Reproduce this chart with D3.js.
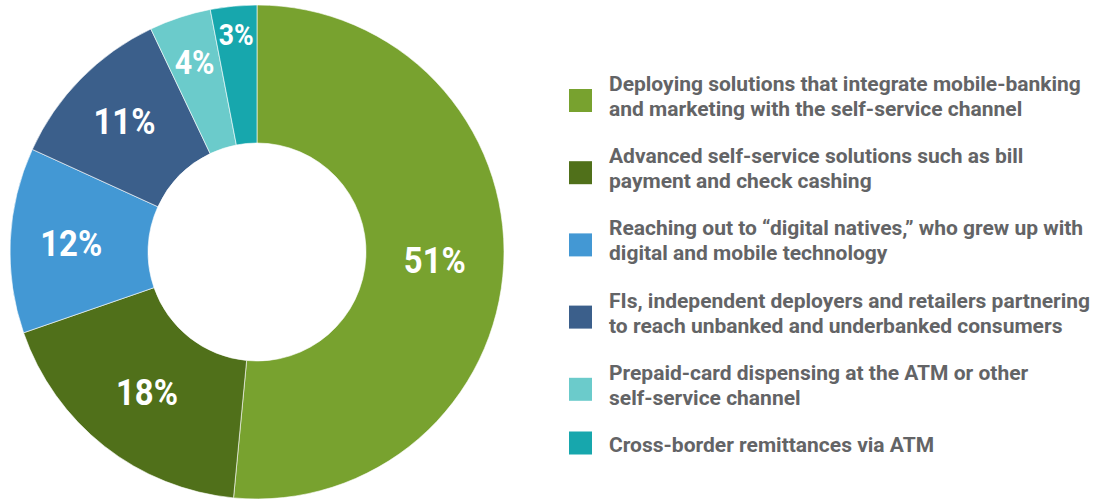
<!DOCTYPE html>
<html>
<head>
<meta charset="utf-8">
<script src="https://cdn.jsdelivr.net/npm/d3@7"></script>
<style>
  html, body { margin: 0; padding: 0; background: #ffffff; }
  svg { display: block; }
  .pct { font-family: "Roboto", "Liberation Sans", sans-serif; font-weight: 700; fill: #ffffff; }
  .leg { font-family: "Roboto", "Liberation Sans", sans-serif; font-weight: 700; fill: #636466; }
</style>
</head>
<body>
<svg id="chart" width="1109" height="502"></svg>
<script>
// Survey shares (percent) for each self-service priority
const categories = [
  ["Deploying solutions that integrate mobile-banking", "and marketing with the self-service channel"],
  ["Advanced self-service solutions such as bill", "payment and check cashing"],
  ["Reaching out to \u201cdigital natives,\u201d who grew up with", "digital and mobile technology"],
  ["FIs, independent deployers and retailers partnering", "to reach unbanked and underbanked consumers"],
  ["Prepaid-card dispensing at the ATM or other", "self-service channel"],
  ["Cross-border remittances via ATM"]
];
const values = [51, 18, 12, 11, 4, 3];
const colors = ["#78a22f", "#50701a", "#4398d4", "#3b5f8b", "#6bcbcb", "#17a7ad"];

const svg = d3.select("#chart");
const cx = 257, cy = 252;
const outerR = 247, innerR = 109;

const pie = d3.pie().sort(null).value(d => d)(values);
const arc = d3.arc().innerRadius(innerR).outerRadius(outerR);

const g = svg.append("g").attr("transform", `translate(${cx},${cy})`);

g.selectAll("path.slice")
  .data(pie)
  .join("path")
  .attr("class", "slice")
  .attr("d", arc)
  .attr("fill", (d, i) => colors[i])
  .attr("stroke", "#ffffff")
  .attr("stroke-width", 0.6);

// Percent labels: centroid for wide slices, pushed outward for narrow ones
function labelPos(d) {
  const mid = (d.startAngle + d.endAngle) / 2;
  let r = (innerR + outerR) / 2;
  if (d.value <= 4) r = outerR - 47 + (4 - d.value) * 19;
  else if (d.value <= 12) r = (innerR + outerR) / 2 + 8;
  return [Math.sin(mid) * r, -Math.cos(mid) * r];
}
const labelSize = d => d.value >= 5 ? 36.5 : 17 + 4.2 * d.value;

g.selectAll("text.pct")
  .data(pie)
  .join("text")
  .attr("class", "pct")
  .attr("transform", d => {
    const [x, y] = labelPos(d);
    return `translate(${x},${y}) scale(0.9,1)`;
  })
  .attr("dy", "0.355em")
  .attr("text-anchor", "middle")
  .attr("font-size", labelSize)
  .text(d => d.value + "%");

// Legend: swatch plus wrapped description lines
const legX = 569, textX = 609, firstBase = 91, step = 72.2, lineH = 25, box = 23;
const legend = svg.append("g");
categories.forEach((lines, i) => {
  const base = firstBase + i * step;
  const boxMid = lines.length > 1 ? base + (lines.length - 1) * lineH / 2 - 3 : base - 9;
  legend.append("rect")
    .attr("x", legX)
    .attr("y", boxMid - box / 2)
    .attr("width", box)
    .attr("height", box)
    .attr("fill", colors[i]);
  lines.forEach((ln, j) => {
    legend.append("text")
      .attr("class", "leg")
      .attr("font-size", 21)
      .attr("x", textX)
      .attr("y", base + j * lineH)
      .text(ln);
  });
});
</script>
</body>
</html>
